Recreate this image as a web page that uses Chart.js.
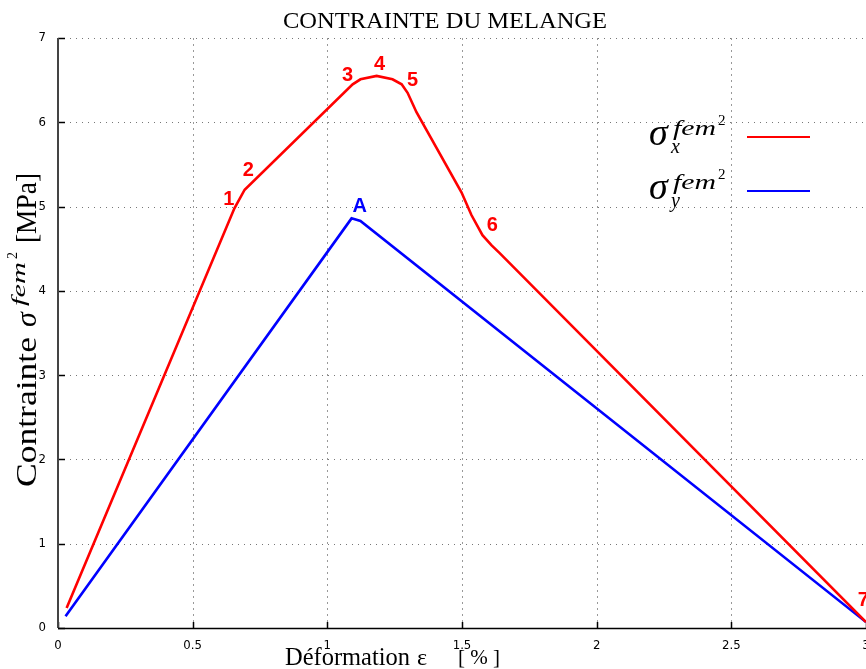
<!DOCTYPE html>
<html><head><meta charset="utf-8">
<script src="https://cdn.jsdelivr.net/npm/chart.js@4.4.1/dist/chart.umd.min.js"></script>
<style>
html,body{margin:0;padding:0;overflow:hidden;background:#fff;width:866px;height:669px}
#wrap{position:relative;width:900px;height:669px}
</style>
</head><body><div id="wrap"><canvas id="c" width="900" height="669"></canvas></div>
<script>
// ---- data ----
const redX = [0.032, 0.655, 0.693, 1.094, 1.123, 1.183, 1.242, 1.276, 1.298, 1.331, 1.498, 1.535, 1.576, 1.610, 1.639, 3.0];
const redY = [0.237, 4.98, 5.20, 6.45, 6.51, 6.55, 6.51, 6.45, 6.35, 6.12, 5.17, 4.90, 4.66, 4.54, 4.45, 0.07];
const blueX = [0.028, 1.090, 1.123, 3.0];
const blueY = [0.14, 4.86, 4.83, 0.07];
const xTicks = [0, 0.5, 1, 1.5, 2, 2.5, 3];
const yTicks = [0, 1, 2, 3, 4, 5, 6, 7];
const redMarks = ['1', '2', '3', '4', '5', '6', '7'];
const redMarkX = [0.634, 0.707, 1.075, 1.194, 1.316, 1.613, 2.99];
const redMarkY = [5.08, 5.43, 6.56, 6.68, 6.50, 4.77, 0.33];
const blueMarks = ['A'];
const blueMarkX = [1.12];
const blueMarkY = [5.0];
const titleText = 'CONTRAINTE DU MELANGE';
const xTitle = 'Déformation';
const yTitle = 'Contrainte';

const RED = '#ff0000', BLUE = '#0000ff';
const SERIF = '"Liberation Serif", "Times New Roman", serif';
const SANS = '"Liberation Sans", Arial, sans-serif';

function fitText(ctx, str, x, y, width) {
  const w = ctx.measureText(str).width;
  ctx.save();
  ctx.translate(x, y);
  ctx.scale(width / w, 1);
  ctx.fillText(str, 0, 0);
  ctx.restore();
}

function drawSigma(ctx, x, base, sub) {
  ctx.fillStyle = '#000';
  ctx.textAlign = 'left';
  ctx.textBaseline = 'alphabetic';
  ctx.font = 'italic 38px ' + SERIF;
  ctx.fillText('σ', x, base);
  ctx.font = 'italic 20px ' + SERIF;
  fitText(ctx, 'fem', x + 24, base - 10, 43);
  ctx.font = '15px ' + SERIF;
  ctx.fillText('2', x + 69, base - 20);
  ctx.font = 'italic 20px ' + SERIF;
  ctx.fillText(sub, x + 22, base + 8);
}

const deco = {
  id: 'deco',
  beforeDatasetsDraw(chart) {
    const { ctx, chartArea: a, scales: { x, y } } = chart;
    ctx.save();
    ctx.lineWidth = 1;
    ctx.strokeStyle = '#777';
    ctx.setLineDash([1, 5]);
    yTicks.forEach(v => {
      if (v === 0) return;
      const py = Math.round(y.getPixelForValue(v)) + 0.5;
      ctx.beginPath(); ctx.moveTo(a.left, py); ctx.lineTo(a.right, py); ctx.stroke();
    });
    ctx.strokeStyle = '#999';
    ctx.setLineDash([2, 4]);
    xTicks.forEach(v => {
      if (v === 0) return;
      const px = Math.round(x.getPixelForValue(v)) + 0.5;
      ctx.beginPath(); ctx.moveTo(px, a.top); ctx.lineTo(px, a.bottom); ctx.stroke();
    });
    ctx.setLineDash([]);
    ctx.strokeStyle = '#000';
    ctx.lineWidth = 1.5;
    yTicks.forEach(v => {
      const py = Math.round(y.getPixelForValue(v)) + 0.5;
      ctx.beginPath(); ctx.moveTo(a.left, py); ctx.lineTo(a.left + 7, py); ctx.stroke();
    });
    xTicks.forEach(v => {
      const px = Math.round(x.getPixelForValue(v)) + 0.5;
      ctx.beginPath(); ctx.moveTo(px, a.bottom); ctx.lineTo(px, a.bottom - 6); ctx.stroke();
    });
    ctx.strokeStyle = '#444';
    ctx.lineWidth = 2;
    ctx.beginPath(); ctx.moveTo(a.left, a.top); ctx.lineTo(a.left, a.bottom); ctx.stroke();
    ctx.strokeStyle = '#000';
    ctx.lineWidth = 1.5;
    ctx.beginPath(); ctx.moveTo(a.left, a.bottom + 0.5); ctx.lineTo(a.right, a.bottom + 0.5); ctx.stroke();
    ctx.restore();
  },
  afterDraw(chart) {
    const { ctx, scales: { x, y } } = chart;
    ctx.save();
    // point labels
    ctx.font = '900 20px ' + SANS;
    ctx.textAlign = 'center';
    ctx.textBaseline = 'middle';
    ctx.fillStyle = RED;
    redMarks.forEach((t, i) => ctx.fillText(t, x.getPixelForValue(redMarkX[i]), y.getPixelForValue(redMarkY[i])));
    ctx.fillStyle = BLUE;
    blueMarks.forEach((t, i) => ctx.fillText(t, x.getPixelForValue(blueMarkX[i]), y.getPixelForValue(blueMarkY[i])));

    // title
    ctx.fillStyle = '#000';
    ctx.textAlign = 'left';
    ctx.textBaseline = 'alphabetic';
    ctx.font = '24px ' + SERIF;
    fitText(ctx, titleText, 283, 28, 324);

    // x title
    ctx.font = '26px ' + SERIF;
    fitText(ctx, xTitle, 285, 665, 125);
    ctx.font = '24px ' + SERIF;
    ctx.fillText('ε', 417, 665);
    ctx.font = '22px ' + SERIF;
    fitText(ctx, '[ % ]', 458, 664, 42);

    // y title (rotated)
    ctx.save();
    ctx.translate(36, 487);
    ctx.rotate(-Math.PI / 2);
    ctx.font = '30px ' + SERIF;
    fitText(ctx, yTitle, 0, 0, 150);
    ctx.font = 'italic 30px ' + SERIF;
    ctx.fillText('σ', 160, 0);
    ctx.font = 'italic 19px ' + SERIF;
    fitText(ctx, 'fem', 181, -11, 44);
    ctx.font = '14px ' + SERIF;
    ctx.fillText('2', 228, -19);
    ctx.font = '30px ' + SERIF;
    fitText(ctx, '[MPa]', 244, 0, 70);
    ctx.restore();

    // legend
    drawSigma(ctx, 649, 145, 'x');
    drawSigma(ctx, 649, 199, 'y');
    ctx.lineWidth = 2;
    ctx.strokeStyle = RED;
    ctx.beginPath(); ctx.moveTo(747, 137); ctx.lineTo(810, 137); ctx.stroke();
    ctx.strokeStyle = BLUE;
    ctx.beginPath(); ctx.moveTo(747, 191); ctx.lineTo(810, 191); ctx.stroke();
    ctx.restore();
  }
};

const toXY = (xs, ys) => xs.map((v, i) => ({ x: v, y: ys[i] }));
const tickFont = { family: '"DejaVu Sans Condensed", "DejaVu Sans", sans-serif', size: 13 };

new Chart(document.getElementById('c'), {
  type: 'line',
  data: {
    datasets: [
      { label: 'sigma_x', data: toXY(redX, redY), borderColor: RED, borderWidth: 2.6, pointRadius: 0, tension: 0, fill: false },
      { label: 'sigma_y', data: toXY(blueX, blueY), borderColor: BLUE, borderWidth: 2.6, pointRadius: 0, tension: 0, fill: false }
    ]
  },
  options: {
    responsive: false,
    animation: false,
    devicePixelRatio: 1,
    layout: { padding: { top: 38, right: 34, left: 0, bottom: 0 } },
    plugins: { legend: { display: false }, title: { display: false }, tooltip: { enabled: false } },
    scales: {
      x: {
        type: 'linear', min: 0, max: 3,
        afterBuildTicks: s => { s.ticks = xTicks.map(v => ({ value: v })); },
        afterFit: s => { s.height = 41; },
        ticks: { font: tickFont, color: '#000', padding: 2, maxRotation: 0, autoSkip: false, callback: v => String(+v) },
        grid: { display: false },
        border: { display: false }
      },
      y: {
        type: 'linear', min: 0, max: 7,
        afterBuildTicks: s => { s.ticks = yTicks.map(v => ({ value: v })); },
        afterFit: s => { s.width = 58; },
        ticks: { font: tickFont, color: '#000', padding: 4, autoSkip: false, callback: v => String(+v) },
        grid: { display: false },
        border: { display: false }
      }
    }
  },
  plugins: [deco]
});
</script>
</body></html>
